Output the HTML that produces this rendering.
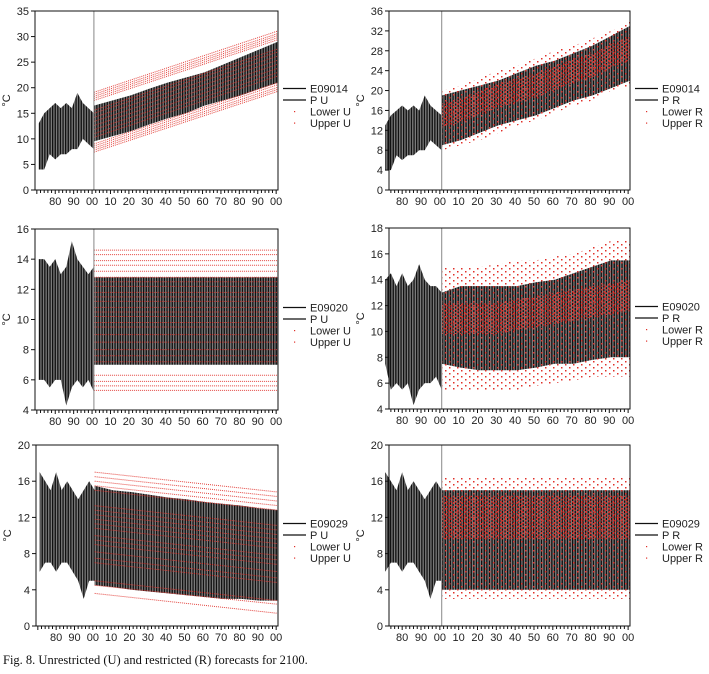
<!DOCTYPE html>
<html><head><meta charset="utf-8"><style>
html,body{margin:0;padding:0;background:#fff;}
svg{display:block;font-family:"Liberation Sans",sans-serif;}
</style></head><body>
<svg id="fig" width="709" height="674" viewBox="0 0 709 674" xmlns="http://www.w3.org/2000/svg">
<defs>
<pattern id="stripes" width="2.6" height="10" patternUnits="userSpaceOnUse">
<rect x="0" y="0" width="1.3" height="10" fill="#111"/>
<rect x="1.3" y="0" width="1.3" height="10" fill="#7a7a7a"/>
</pattern>
<pattern id="dotsSparse" width="8" height="6" patternUnits="userSpaceOnUse">
<rect x="1" y="1" width="1.5" height="1.5" fill="#e0302a"/>
<rect x="5" y="4" width="1.5" height="1.5" fill="#e0302a"/>
</pattern>
<pattern id="dotsDense" width="4.5" height="3.5" patternUnits="userSpaceOnUse">
<rect x="0.5" y="0.5" width="1.6" height="1.6" fill="#e0302a"/>
<rect x="2.8" y="2.2" width="1.4" height="1.4" fill="#e0302a"/>
</pattern>
</defs>
<text x="3" y="664" font-family="Liberation Serif, serif" font-size="12.5" fill="#111">Fig. 8. Unrestricted (U) and restricted (R) forecasts for 2100.</text>
</svg>
<script>
// ---- data ----
const histYears = [1971,1974,1977,1980,1983,1986,1989,1992,1995,1998,2001];
const fcYears = [2001,2011,2021,2031,2041,2051,2061,2071,2081,2091,2101];

const p1HistLo = [4,4,7,6,7,7,8,8,10,9,8];
const p1HistHi = [13,15,16,17,16,17,16,19,17,16,15];
const p1FcLo = [9.5,10.5,11.5,12.8,14,15,16.5,17.5,18.5,19.8,21];
const p1FcHi = [16.5,17.5,18.5,19.8,21,22,23,24.5,26,27.5,29];
const p1LineStart = [17.5,17.9,18.3,18.7,19.1,7.4,7.8,8.2,8.6,9.0,10.3,11,11.8,12.6,13.4,14.2,15,15.6];
const p1LineEnd = [29.4,29.8,30.2,30.6,31.1,19.3,19.7,20.1,20.6,21.0,22.3,23,23.8,24.6,25.4,26.2,27,27.6];

const p2HistLo = [4,4,7,6,7,7,8,8,10,9,8];
const p2HistHi = [13,15,16,17,16,17,16,19,17,16,15];
const p2FcLo = [9,10,11.5,13,14,15,16.5,18,19,20.5,22];
const p2FcHi = [19,20,21,22,23.5,25,26,27.5,29,31,33];
const p2DotLo = [8,9,10,11.5,13,14,15.5,17,18,20,21];
const p2DotHi = [20,21,22.5,24,25,26.5,28,29,30.5,32,34];
const p2DotMid = [15,16,17.5,19,20,21,22.5,24,25,27,28.5];

const p3HistLo = [6,6,5.5,6,6,4.3,5.5,6,5.5,6,5.2];
const p3HistHi = [14,14,13.5,14,13,13.5,15.2,14,13.5,13,13.5];
const p3FcLo = [7,7,7,7,7,7,7,7,7,7,7];
const p3FcHi = [12.8,12.8,12.8,12.8,12.8,12.8,12.8,12.8,12.8,12.8,12.8];
const p3LineStart = [14.6,14.3,13.9,13.6,13.2,12.8,12.5,12.2,11.8,11.5,11.2,10.8,10.5,10.2,9.8,9.5,9.0,8.5,8,7.6,7.2,6.3,5.9,5.6,5.3];
const p3LineEnd = [14.6,14.3,13.9,13.6,13.2,12.8,12.5,12.2,11.8,11.5,11.2,10.8,10.5,10.2,9.8,9.5,9.0,8.5,8,7.6,7.2,6.3,5.9,5.6,5.3];

const p4HistLo = [7.5,5.5,6,5.5,6,4.3,5.5,6,6,6.5,5.5];
const p4HistHi = [14,14.5,13.5,14.5,13.5,14,15.2,14,13.5,13.5,13];
const p4FcLo = [7.5,7.2,7,7,7,7.2,7.5,7.5,7.8,8,8];
const p4FcHi = [13,13.5,13.5,13.5,13.5,13.8,14,14.5,15,15.5,15.5];
const p4DotLo = [5.5,5.5,5.5,5.5,5.5,5.8,6,6.2,6.5,6.5,6.5];
const p4DotHi = [15,15,15,15.2,15.5,15.5,15.8,16,16.5,17,17];
const p4DotMid = [11,11,11,11,11.3,11.5,11.8,12,12.3,12.5,12.8];

const p5HistLo = [6,7,7,6,7,7,6,5,3,5,5];
const p5HistHi = [17,16,15,17,15,16,15,14,15,16,15];
const p5FcLo = [4.5,4.3,4,3.8,3.6,3.4,3.2,3,3,2.8,2.8];
const p5FcHi = [15.5,15,14.8,14.5,14.2,14,13.7,13.5,13.3,13,12.8];
const p5LineStart = [17,16.5,16,15.5,15,13.3,12.8,12.3,11.8,11.3,10.8,10,9.5,9,8.2,7.5,7,5,4.5,3.6];
const p5LineEnd = [14.8,14.3,13.8,13.3,12.8,11.1,10.6,10.1,9.6,9.1,8.6,7.8,7.3,6.8,6,5.3,4.8,2.8,2.4,1.4];

const p6HistLo = [6,7,7,6,7,7,6,5,3,5,5];
const p6HistHi = [17,16,15,17,15,16,15,14,15,16,15];
const p6FcLo = [4,4,4,4,4,4,4,4,4,4,4];
const p6FcHi = [15,15,15,15,15,15,15,15,15,15,15];
const p6DotLo = [3,3,3,3,3,3,3,3,3,3,3];
const p6DotHi = [16.5,16.5,16.5,16.5,16.5,16.5,16.5,16.5,16.5,16.5,16.5];
const p6DotMid = [12,12,12,12,12,12,12,12,12,12,12];

const xTickLabels = ["80","90","00","10","20","30","40","50","60","70","80","90","00"];
const xTickYears = [1980,1990,2000,2010,2020,2030,2040,2050,2060,2070,2080,2090,2100];

const panels = [
 {id:'e09014-u',L:35,R:278,T:11,B:190,y0:0,y1:35,step:5,x0:1969,x1:2101,hLo:p1HistLo,hHi:p1HistHi,fLo:p1FcLo,fHi:p1FcHi,ls:p1LineStart,le:p1LineEnd,station:'E09014',kind:'U',vline:true},
 {id:'e09014-r',L:389,R:630,T:11,B:190,y0:0,y1:36,step:4,x0:1973,x1:2101,hLo:p2HistLo,hHi:p2HistHi,fLo:p2FcLo,fHi:p2FcHi,dLo:p2DotLo,dHi:p2DotHi,dMid:p2DotMid,station:'E09014',kind:'R',vline:true},
 {id:'e09020-u',L:35,R:278,T:229,B:410,y0:4,y1:16,step:2,x0:1969,x1:2101,hLo:p3HistLo,hHi:p3HistHi,fLo:p3FcLo,fHi:p3FcHi,ls:p3LineStart,le:p3LineEnd,station:'E09020',kind:'U',vline:true},
 {id:'e09020-r',L:389,R:630,T:228,B:409,y0:4,y1:18,step:2,x0:1973,x1:2101,hLo:p4HistLo,hHi:p4HistHi,fLo:p4FcLo,fHi:p4FcHi,dLo:p4DotLo,dHi:p4DotHi,dMid:p4DotMid,station:'E09020',kind:'R',vline:true},
 {id:'e09029-u',L:36,R:278,T:445,B:626,y0:0,y1:20,step:4,x0:1969,x1:2101,hLo:p5HistLo,hHi:p5HistHi,fLo:p5FcLo,fHi:p5FcHi,ls:p5LineStart,le:p5LineEnd,station:'E09029',kind:'U',vline:false},
 {id:'e09029-r',L:389,R:630,T:445,B:626,y0:0,y1:20,step:4,x0:1973,x1:2101,hLo:p6HistLo,hHi:p6HistHi,fLo:p6FcLo,fHi:p6FcHi,dLo:p6DotLo,dHi:p6DotHi,dMid:p6DotMid,station:'E09029',kind:'R',vline:true}
];

const NS='http://www.w3.org/2000/svg';
const svg=document.getElementById('fig');
function mk(tag,attrs,parent){const e=document.createElementNS(NS,tag);for(const k in attrs)e.setAttribute(k,attrs[k]);(parent||svg).appendChild(e);return e;}
function band(xs,lo,hi,sx,sy){let pts=[];for(let i=0;i<xs.length;i++)pts.push(sx(xs[i])+','+sy(hi[i]));for(let i=xs.length-1;i>=0;i--)pts.push(sx(xs[i])+','+sy(lo[i]));return pts.join(' ');}

panels.forEach(p=>{
 const g=mk('g',{});
 
 
 const sx=v=>p.L+(v-p.x0)/(p.x1-p.x0)*(p.R-p.L);
 const sy=v=>p.B-(v-p.y0)/(p.y1-p.y0)*(p.B-p.T);
 const hb=mk('polygon',{points:band(histYears,p.hLo,p.hHi,sx,sy),fill:'url(#stripes)'},g);
 
 
 const fb=mk('polygon',{points:band(fcYears,p.fLo,p.fHi,sx,sy),fill:'url(#stripes)'},g);
 
 
 if(p.ls){
  p.ls.forEach((s,i)=>{
   const l=mk('line',{x1:sx(2001),y1:sy(s),x2:sx(2101),y2:sy(p.le[i]),stroke:'#e0302a','stroke-width':1,'stroke-dasharray':'1 1',opacity:0.9},g);
   
   
  });
 }
 if(p.dLo){
  const d1=mk('polygon',{points:band(fcYears,p.dLo,p.dHi,sx,sy),fill:'url(#dotsSparse)'},g);
  
  
  const lo=p.dMid.map(v=>v-1.2*(p.step/2)), hi=p.dMid.map(v=>v+1.2*(p.step/2));
  const d2=mk('polygon',{points:band(fcYears,lo,hi,sx,sy),fill:'url(#dotsDense)'},g);
  
  
 }
 if(p.vline){
  const v=mk('line',{x1:sx(2001),y1:p.T,x2:sx(2001),y2:p.B,stroke:'#888','stroke-width':1},g);
  
  
 }
 const fr=mk('rect',{x:p.L,y:p.T,width:p.R-p.L,height:p.B-p.T,fill:'none',stroke:'#111','stroke-width':1},g);
 
 
 for(let v=p.y0;v<=p.y1+0.001;v+=p.step){
  mk('line',{x1:p.L-4,y1:sy(v),x2:p.L,y2:sy(v),stroke:'#111'},g);
  const t=mk('text',{x:p.L-6,y:sy(v)+4,'text-anchor':'end','font-size':11,fill:'#222'},g);
  t.textContent=v;
  
  
 }
 for(let y=Math.ceil(p.x0/2)*2;y<=p.x1;y+=2){
  const big=y%10===0;
  mk('line',{x1:sx(y),y1:p.B,x2:sx(y),y2:p.B+(big?4:3),stroke:'#111'},g);
 }
 xTickYears.forEach((y,i)=>{
  const t=mk('text',{x:sx(y),y:p.B+15,'text-anchor':'middle','font-size':11,fill:'#222'},g);
  t.textContent=xTickLabels[i];
  
  
 });
 const yl=mk('text',{x:0,y:0,'font-size':11,fill:'#222','text-anchor':'middle',transform:`translate(${p.L-25},${(p.T+p.B)/2}) rotate(-90)`},g);
 yl.textContent='°C';
 
 
 const lg=mk('g',{},g);
 
 
 const lx=p.R+5, ly=(p.T+p.B)/2-12;
 const names=[p.station,'P '+p.kind,'Lower '+p.kind,'Upper '+p.kind];
 names.forEach((n,i)=>{
  const yy=ly+i*11.5;
  if(i<2) mk('line',{x1:lx,y1:yy,x2:lx+23,y2:yy,stroke:'#111','stroke-width':1.2},lg);
  else mk('rect',{x:lx+11,y:yy-0.5,width:1.2,height:1.2,fill:'#e0302a'},lg);
  const t=mk('text',{x:lx+27,y:yy+4,'font-size':11,fill:'#222'},lg);
  t.textContent=n;
  
  
 });
});
</script>
</body></html>
